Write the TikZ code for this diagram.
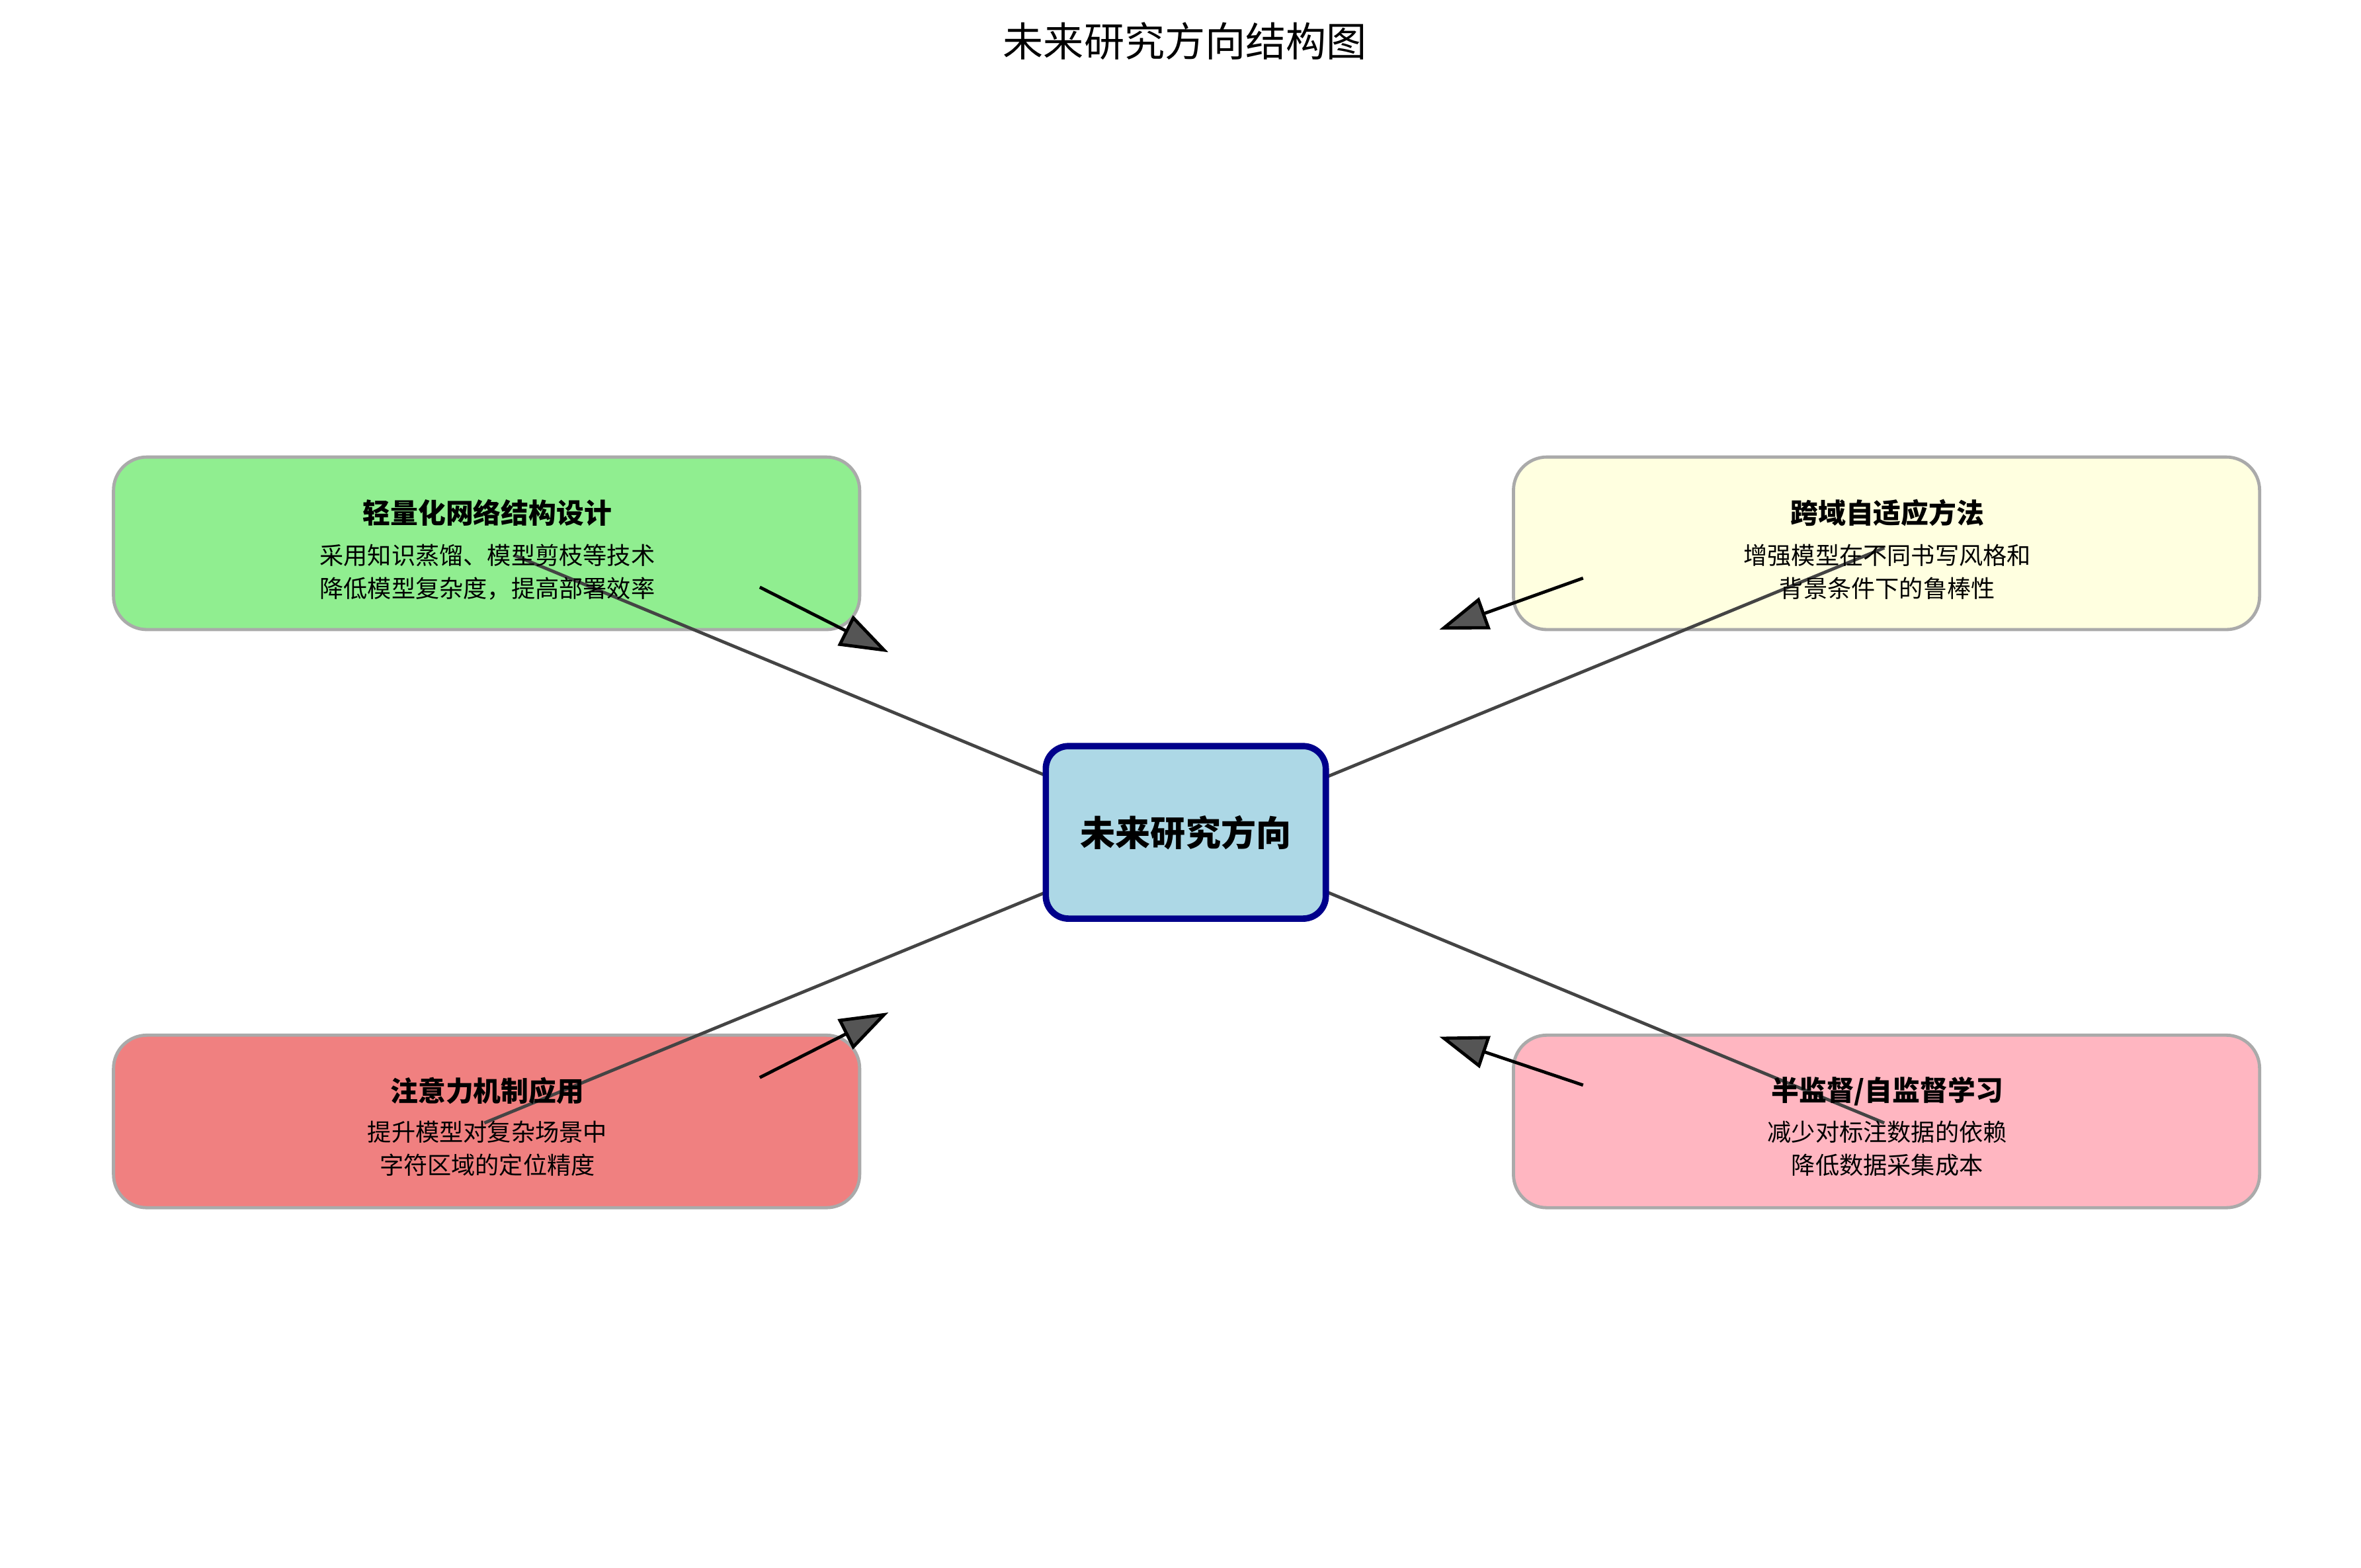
\documentclass[tikz,border=0pt]{standalone}
\usepackage{fontspec}
\setmainfont{Noto Sans CJK SC}
\usetikzlibrary{arrows.meta}
\definecolor{bgreen}{HTML}{90EE90}
\definecolor{byellow}{HTML}{FFFFE0}
\definecolor{bred}{HTML}{F08080}
\definecolor{bpink}{HTML}{FFB6C1}
\definecolor{bblue}{HTML}{ADD8E6}
\definecolor{dblue}{HTML}{00008B}
\definecolor{edge}{HTML}{AAAAAA}
\definecolor{lgray}{HTML}{444444}
\tikzset{
 box/.style={draw=edge,line width=0.6pt,rounded corners=2.2mm,minimum width=49.3mm,minimum height=11.4mm,inner sep=0pt},
 ttl/.style={font=\fontsize{5.2pt}{6pt}\selectfont\bfseries},
 dsc/.style={font=\fontsize{4.5pt}{6.2pt}\selectfont,align=center},
 link/.style={lgray,line width=0.6pt},
 arr/.style={line width=0.6pt,-{Triangle[length=3.2mm,width=2.2mm,fill={rgb,255:red,85;green,85;blue,85}]}},
}
\begin{document}
\begin{tikzpicture}[x=0.1mm,y=-0.1mm]
\useasboundingbox (0,0) rectangle (1560,1036);
\node[font=\fontsize{7.6pt}{9pt}\selectfont] (title) at (783,27) {未来研究方向结构图};
\node[box,fill=bgreen] (g) at (321.5,359) {};
\node[box,fill=byellow] (y) at (1246.5,359) {};
\node[box,fill=bred] (r) at (321.5,741) {};
\node[box,fill=bpink] (p) at (1246.5,741) {};
\coordinate (ga) at (340,367); \coordinate (pa) at (1245,742);
\coordinate (ra) at (320,742); \coordinate (ya) at (1245,362);
\draw[link] (ga) -- (pa);
\draw[link] (ra) -- (ya);
\node[ttl] (gt) at (322,339) {轻量化网络结构设计};
\node[dsc] (gd) at (322,378) {采用知识蒸馏、模型剪枝等技术\\降低模型复杂度，提高部署效率};
\node[ttl] (yt) at (1247,339) {跨域自适应方法};
\node[dsc] (yd) at (1247,378) {增强模型在不同书写风格和\\背景条件下的鲁棒性};
\node[ttl] (rt) at (322,721) {注意力机制应用};
\node[dsc] (rd) at (322,759) {提升模型对复杂场景中\\字符区域的定位精度};
\node[ttl] (pt) at (1247,721) {半监督/自监督学习};
\node[dsc] (pd) at (1247,759) {减少对标注数据的依赖\\降低数据采集成本};
\node[draw=dblue,line width=1.2pt,fill=bblue,rounded corners=1.5mm,minimum width=18.5mm,minimum height=11.4mm,inner sep=0pt] (c) at (783.5,550) {};
\node[font=\fontsize{6.6pt}{8pt}\selectfont\bfseries] (ct) at (783.5,550) {未来研究方向};
\coordinate (a1) at (502,388); \coordinate (b1) at (587,431);
\coordinate (a2) at (1046,382); \coordinate (b2) at (951,416);
\coordinate (a3) at (502,712); \coordinate (b3) at (587,669);
\coordinate (a4) at (1046,717); \coordinate (b4) at (951,685);
\draw[arr] (a1) -- (b1);
\draw[arr] (a2) -- (b2);
\draw[arr] (a3) -- (b3);
\draw[arr] (a4) -- (b4);
\end{tikzpicture}
\end{document}
